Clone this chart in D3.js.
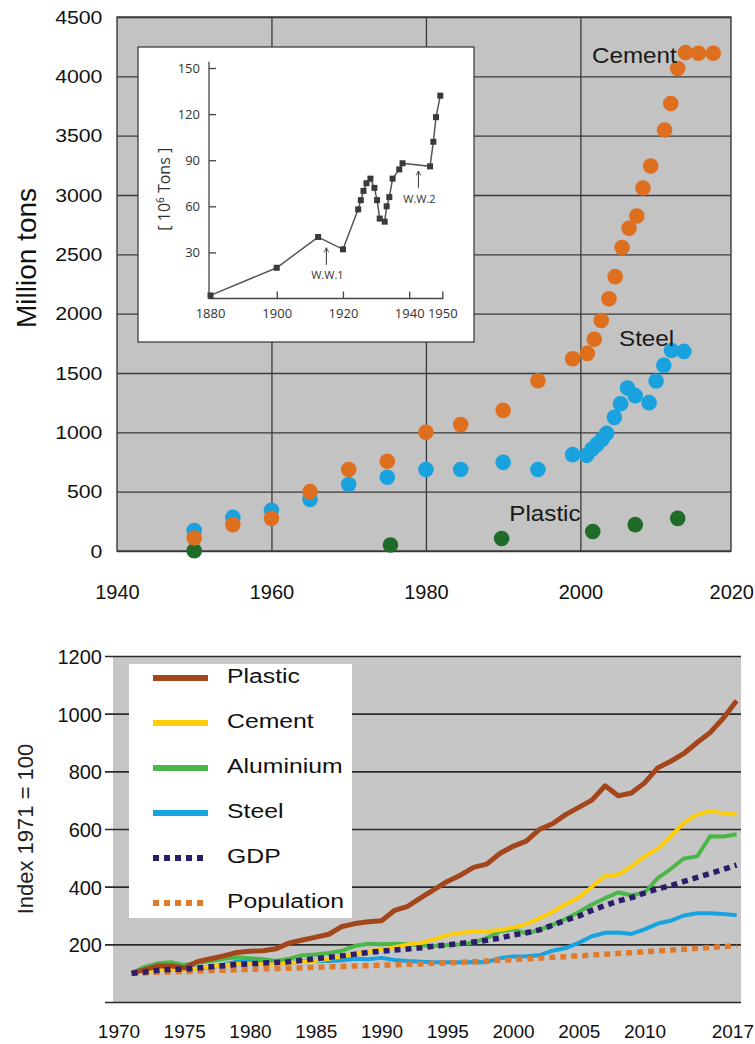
<!DOCTYPE html>
<html>
<head>
<meta charset="utf-8">
<script src="https://cdn.jsdelivr.net/npm/d3@7"></script>
<style>
  html, body { margin: 0; padding: 0; background: #fff; }
  svg { display: block; font-family: "Liberation Sans", Arial, Helvetica, sans-serif; }
</style>
</head>
<body>
<svg id="fig" width="755" height="1044"></svg>
<script>
// ---------- Upper panel: world production, million tons ----------
const cementYears = [1950, 1955, 1960, 1965, 1970, 1975, 1980, 1984.5, 1990, 1994.5, 1999, 2000.9, 2001.8, 2002.7, 2003.7, 2004.5, 2005.4, 2006.3, 2007.3, 2008.1, 2009.1, 2010.9, 2011.7, 2012.6, 2013.6, 2015.3, 2017.2];
const cementTons  = [110, 222, 275, 500, 687, 756, 1000, 1065, 1185, 1435, 1620, 1665, 1785, 1942, 2125, 2312, 2557, 2719, 2823, 3059, 3244, 3548, 3771, 4066, 4200, 4195, 4195];

const steelYears = [1950, 1955, 1960, 1965, 1970, 1975, 1980, 1984.5, 1990, 1994.5, 1999, 2000.8, 2001.5, 2002.1, 2002.8, 2003.4, 2004.4, 2005.2, 2006.1, 2007.1, 2008.9, 2009.8, 2010.8, 2011.8, 2013.4];
const steelTons  = [172, 283, 344, 434, 560, 622, 687, 687, 747, 687, 812, 806, 857, 896, 940, 991, 1126, 1241, 1374, 1309, 1250, 1432, 1565, 1690, 1682];

const plasticYears = [1950, 1975.4, 1989.8, 2001.6, 2007.1, 2012.6];
const plasticTons  = [2, 50, 105, 164, 222, 275];

const mainNames  = ["Cement", "Steel", "Plastic"];
const mainYTicks = [0, 500, 1000, 1500, 2000, 2500, 3000, 3500, 4000, 4500];
const mainXTicks = [1940, 1960, 1980, 2000, 2020];
const mainGridX  = [1960, 1980, 2000];
const mainYTitle = "Million tons";

// Inset: early production, 10^6 tons
const insetYears = [1880, 1900, 1912.5, 1920, 1924.6, 1925.4, 1926.2, 1927.1, 1928.3, 1929.5, 1930.3, 1931.1, 1932.6, 1933.2, 1934, 1935, 1937, 1938, 1946.3, 1947.3, 1948.1, 1949.4];
const insetTons  = [2, 20, 40, 32, 58, 64, 70, 75, 78, 72, 64, 52, 50, 60, 66, 78, 84, 88, 86, 102, 118, 132];
const insetXTicks = [1880, 1900, 1920, 1940, 1950];
const insetYTicks = [30, 60, 90, 120, 150];
const insetNotes  = [
  { text: "W.W.1", year: 1915, from: 22, to: 33, label: 13 },
  { text: "W.W.2", year: 1942.8, from: 72, to: 83, label: 62 }
];

// ---------- Lower panel: index 1971 = 100 ----------
const indexYears = [1971, 1972, 1973, 1974, 1975, 1976, 1977, 1978, 1979, 1980,
                    1981, 1982, 1983, 1984, 1985, 1986, 1987, 1988, 1989, 1990,
                    1991, 1992, 1993, 1994, 1995, 1996, 1997, 1998, 1999, 2000,
                    2001, 2002, 2003, 2004, 2005, 2006, 2007, 2008, 2009, 2010,
                    2011, 2012, 2013, 2014, 2015, 2016, 2017];
const plasticIndex = [100, 112, 125, 126, 118, 140, 150, 160, 172, 176,
                      178, 185, 205, 215, 225, 235, 262, 272, 278, 282,
                      318, 332, 362, 390, 418, 440, 467, 478, 515, 540,
                      558, 598, 618, 650, 675, 700, 750, 715, 725, 760,
                      812, 835, 862, 900, 935, 985, 1045];
const cementIndex = [100, 106, 113, 112, 110, 116, 122, 128, 132, 133,
                     131, 130, 135, 140, 143, 150, 158, 168, 176, 182,
                     190, 200, 205, 218, 232, 240, 244, 245, 250, 258,
                     270, 290, 312, 340, 362, 400, 438, 442, 470, 505,
                     532, 575, 622, 650, 662, 655, 650];
const aluminiumIndex = [100, 122, 134, 138, 128, 136, 142, 150, 155, 152,
                        148, 142, 150, 162, 165, 170, 178, 195, 202, 200,
                        202, 200, 196, 194, 198, 200, 206, 222, 245, 252,
                        238, 250, 268, 288, 312, 338, 360, 380, 370, 378,
                        430, 462, 498, 505, 575, 574, 582];
const steelIndex = [100, 110, 120, 122, 112, 118, 120, 130, 140, 142,
                    140, 132, 135, 142, 143, 142, 145, 150, 148, 153,
                    146, 142, 140, 138, 138, 138, 139, 138, 152, 158,
                    159, 162, 178, 187, 205, 228, 240, 241, 236, 252,
                    272, 282, 300, 308, 308, 305, 301];
const gdpIndex = [100, 104, 110, 113, 114, 118, 122, 126, 130, 132,
                  135, 137, 140, 145, 150, 155, 160, 166, 172, 176,
                  180, 184, 188, 194, 198, 203, 208, 214, 222, 232,
                  240, 250, 266, 284, 298, 318, 335, 350, 362, 378,
                  392, 404, 418, 432, 446, 460, 475];
const populationIndex = [100, 101, 103, 104, 106, 107, 109, 110, 112, 113,
                         115, 116, 117, 119, 120, 122, 123, 125, 126, 128,
                         129, 131, 132, 134, 136, 138, 140, 142, 145, 147,
                         150, 152, 155, 157, 160, 163, 166, 168, 171, 174,
                         177, 180, 183, 186, 189, 192, 196];
const indexNames  = ["Plastic", "Cement", "Aluminium", "Steel", "GDP", "Population"];
const indexYTicks = [0, 200, 400, 600, 800, 1000, 1200];
const indexXTicks = [1970, 1975, 1980, 1985, 1990, 1995, 2000, 2005, 2010, 2017];
const indexYTitle = "Index 1971 = 100";

// ---------- drawing ----------
const FONT = '"Liberation Sans", Arial, Helvetica, sans-serif';
const INSET_FONT = '"Open Sans", "Liberation Sans", Arial, sans-serif';
const W = 755;
const svg = d3.select("#fig");
svg.append("rect").attr("width", W).attr("height", 1044).attr("fill", "#fff");

// open arrowhead drawn along +x, so orient="auto" turns it with the line
svg.append("defs").append("marker")
  .attr("id", "arrowUp").attr("viewBox", "0 0 8 8")
  .attr("refX", 7).attr("refY", 4)
  .attr("markerUnits", "userSpaceOnUse")
  .attr("markerWidth", 6).attr("markerHeight", 6)
  .attr("orient", "auto")
  .append("path").attr("d", "M1,1L7,4L1,7").attr("fill", "none").attr("stroke", "#444").attr("stroke-width", 1.2);

// keeps the right-most tick label inside the page
function keepInside(sel) {
  sel.each(function () {
    const b = this.getBBox();
    const t = d3.select(this.parentNode).attr("transform");
    const tx = +/translate\(([-\d.]+)/.exec(t)[1];
    const over = tx + b.x + b.width - (W - 1);
    if (over > 0) d3.select(this).attr("x", -over);
  });
}

// ===== upper panel =====
const P1 = { left: 117, right: 731, top: 17, bottom: 551 };
const x1 = d3.scaleLinear().domain([1940, 2019.5]).range([P1.left, P1.right]);
const y1 = d3.scaleLinear().domain([0, 4500]).range([P1.bottom, P1.top]);
const up = svg.append("g");

up.append("rect")
  .attr("x", P1.left).attr("y", P1.top)
  .attr("width", P1.right - P1.left).attr("height", P1.bottom - P1.top)
  .attr("fill", "#c3c3c3");

// vertical grid
const gx1grid = up.append("g")
  .attr("transform", `translate(0,${P1.bottom})`)
  .call(d3.axisBottom(x1).tickValues(mainGridX).tickSize(-(P1.bottom - P1.top)).tickFormat(""));
gx1grid.select(".domain").remove();
gx1grid.selectAll("line").attr("stroke", "#3a3a3a").attr("stroke-width", 1.3);

// horizontal grid + value labels
const gy1 = up.append("g")
  .attr("transform", `translate(${P1.left},0)`)
  .call(d3.axisLeft(y1).tickValues(mainYTicks).tickSize(-(P1.right - P1.left)).tickPadding(13).tickFormat(d3.format("d")));
gy1.attr("font-family", null).attr("font-size", null);
gy1.select(".domain").remove();
gy1.selectAll("line").attr("stroke", "#3a3a3a").attr("stroke-width", 1.3);
gy1.selectAll("text")
  .attr("font-family", FONT).attr("font-size", 19).attr("fill", "#111")
  .attr("transform", "scale(1.12,1)");

// year labels
const gx1 = up.append("g")
  .attr("transform", `translate(0,${P1.bottom})`)
  .call(d3.axisBottom(x1).tickValues(mainXTicks).tickSize(0).tickFormat(d3.format("d")));
gx1.attr("font-family", null).attr("font-size", null);
gx1.select(".domain").remove();
gx1.selectAll("text")
  .attr("font-family", FONT).attr("font-size", 20).attr("fill", "#111")
  .attr("y", 48).attr("dy", 0)
  .call(keepInside);

// frame
up.append("rect")
  .attr("x", P1.left).attr("y", P1.top)
  .attr("width", P1.right - P1.left).attr("height", P1.bottom - P1.top)
  .attr("fill", "none").attr("stroke", "#3a3a3a").attr("stroke-width", 1.4);

// axis title
up.append("text")
  .attr("transform", "translate(36,258) rotate(-90)")
  .attr("text-anchor", "middle")
  .attr("font-family", FONT).attr("font-size", 28).attr("fill", "#111")
  .text(mainYTitle);

// ----- inset -----
const IB = { x: 138, y: 47, w: 336, h: 295 };
const inset = up.append("g");
inset.append("rect")
  .attr("x", IB.x).attr("y", IB.y).attr("width", IB.w).attr("height", IB.h)
  .attr("fill", "#fff").attr("stroke", "#333").attr("stroke-width", 1.2);

const xi = d3.scaleLinear().domain([1880, 1950]).range([210.5, 442.3]);
const yi = d3.scaleLinear().domain([0, 150]).range([298.5, 68]);
const axisX0 = 209;

const giy = inset.append("g")
  .attr("transform", `translate(${axisX0},0)`)
  .call(d3.axisLeft(yi).tickValues(insetYTicks).tickSizeInner(-7).tickSizeOuter(0).tickPadding(9));
giy.attr("font-family", null).attr("font-size", null);
giy.select(".domain").remove();
giy.selectAll("line").attr("stroke", "#444").attr("stroke-width", 1.3);
giy.selectAll("text").attr("font-family", INSET_FONT).attr("font-size", 13).attr("fill", "#333");

const gix = inset.append("g")
  .attr("transform", `translate(0,${yi(0)})`)
  .call(d3.axisBottom(xi).tickValues(insetXTicks.slice(1)).tickSizeInner(-7).tickSizeOuter(0).tickFormat(d3.format("d")));
gix.attr("font-family", null).attr("font-size", null);
gix.select(".domain").remove();
gix.selectAll("line").attr("stroke", "#444").attr("stroke-width", 1.3);
gix.selectAll("text").attr("font-family", INSET_FONT).attr("font-size", 13).attr("fill", "#333")
  .attr("y", 19).attr("dy", 0);
// first year label sits at the corner
gix.append("text")
  .attr("x", xi(insetXTicks[0])).attr("y", 19)
  .attr("text-anchor", "middle")
  .attr("font-family", INSET_FONT).attr("font-size", 13).attr("fill", "#333")
  .text(insetXTicks[0]);

// axis lines
inset.append("path")
  .attr("d", `M${axisX0},${yi(154)}V${yi(0)}H${xi(1950) + 1}`)
  .attr("fill", "none").attr("stroke", "#444").attr("stroke-width", 1.3);

inset.append("text")
  .attr("transform", `translate(170,${yi(75) + 6}) rotate(-90)`)
  .attr("text-anchor", "middle")
  .attr("font-family", INSET_FONT).attr("font-size", 16).attr("fill", "#333")
  .call(t => {
    t.append("tspan").text("[ 10");
    t.append("tspan").attr("font-size", 10).attr("dy", -6).text("6");
    t.append("tspan").attr("dy", 6).text(" Tons ]");
  });

const insetData = insetYears.map((yr, i) => ({ year: yr, v: insetTons[i] }));
inset.append("path")
  .datum(insetData)
  .attr("d", d3.line().x(d => xi(d.year)).y(d => yi(d.v)))
  .attr("fill", "none").attr("stroke", "#555").attr("stroke-width", 1.5);
inset.selectAll("rect.mk").data(insetData).join("rect")
  .attr("class", "mk")
  .attr("x", d => xi(d.year) - 3).attr("y", d => yi(d.v) - 3)
  .attr("width", 6).attr("height", 6)
  .attr("fill", "#3a3a3a");

insetNotes.forEach(n => {
  inset.append("line")
    .attr("x1", xi(n.year)).attr("x2", xi(n.year))
    .attr("y1", yi(n.from)).attr("y2", yi(n.to))
    .attr("stroke", "#444").attr("stroke-width", 1.1)
    .attr("marker-end", "url(#arrowUp)");
  inset.append("text")
    .attr("x", xi(n.year) + 1).attr("y", yi(n.label))
    .attr("text-anchor", "middle")
    .attr("font-family", INSET_FONT).attr("font-size", 11).attr("fill", "#333")
    .text(n.text);
});

// ----- dots -----
const mainColors = { Cement: "#de6f1f", Steel: "#1aa2de", Plastic: "#1e6b2a" };
const mainSeries = [
  { name: mainNames[2], years: plasticYears, vals: plasticTons },
  { name: mainNames[1], years: steelYears, vals: steelTons },
  { name: mainNames[0], years: cementYears, vals: cementTons }
];
mainSeries.forEach(s => {
  up.append("g").selectAll("circle")
    .data(s.years.map((yr, i) => ({ year: yr, v: s.vals[i] })))
    .join("circle")
    .attr("cx", d => x1(d.year)).attr("cy", d => y1(d.v))
    .attr("r", 7.8)
    .attr("fill", mainColors[s.name]);
});

// series labels
const labelPos = {
  Cement: [x1(2001.5), y1(4110)],
  Steel: [x1(2005), y1(1730)],
  Plastic: [x1(1990.8), y1(250)]
};
mainNames.forEach(n => {
  up.append("text")
    .attr("transform", `translate(${labelPos[n][0]},${labelPos[n][1]}) scale(1.1,1)`)
    .attr("font-family", FONT).attr("font-size", 22).attr("fill", "#1a1a1a")
    .text(n);
});

// ===== lower panel =====
const P2 = { left: 113, right: 741 };
const x2 = d3.scaleLinear().domain([1970, 2017]).range([118.5, 736.6]);
const y2 = d3.scaleLinear().domain([0, 1200]).range([1002, 656]);
const lo = svg.append("g");

lo.append("rect")
  .attr("x", P2.left).attr("y", y2(1200))
  .attr("width", P2.right - P2.left).attr("height", y2(0) - y2(1200))
  .attr("fill", "#c6c6c6");

const gy2 = lo.append("g")
  .attr("transform", `translate(${P2.left},0)`)
  .call(d3.axisLeft(y2).tickValues(indexYTicks).tickSizeInner(-(P2.right - P2.left)).tickSizeOuter(0).tickPadding(11)
        .tickFormat(d => d === 0 ? "" : d));
gy2.attr("font-family", null).attr("font-size", null);
gy2.select(".domain").remove();
gy2.selectAll("line").attr("x1", -8).attr("stroke", "#2a2a2a").attr("stroke-width", 1.7);
gy2.selectAll("text")
  .attr("font-family", FONT).attr("font-size", 20).attr("fill", "#111")
  .attr("dy", "0.38em");

const gx2 = lo.append("g")
  .attr("transform", `translate(0,${y2(0)})`)
  .call(d3.axisBottom(x2).tickValues(indexXTicks).tickSize(0).tickFormat(d3.format("d")));
gx2.attr("font-family", null).attr("font-size", null);
gx2.select(".domain").remove();
gx2.selectAll("text")
  .attr("font-family", FONT).attr("font-size", 19).attr("fill", "#111")
  .attr("y", 36).attr("dy", 0)
  .call(keepInside);

lo.append("text")
  .attr("transform", "translate(33,829) rotate(-90)")
  .attr("text-anchor", "middle")
  .attr("font-family", FONT).attr("font-size", 22).attr("fill", "#222")
  .text(indexYTitle);

const indexStyle = {
  Plastic:    { color: "#a4461b", width: 5, dash: null },
  Cement:     { color: "#ffcc0a", width: 4, dash: null },
  Aluminium:  { color: "#4bb749", width: 4, dash: null },
  Steel:      { color: "#19a2e0", width: 4, dash: null },
  GDP:        { color: "#2a1d6a", width: 5.5, dash: "6,5" },
  Population: { color: "#e07a2c", width: 5.5, dash: "6,5" }
};
const indexValues = {
  Plastic: plasticIndex, Cement: cementIndex, Aluminium: aluminiumIndex,
  Steel: steelIndex, GDP: gdpIndex, Population: populationIndex
};
const drawOrder = ["Steel", "Aluminium", "Cement", "Plastic", "Population", "GDP"];
const line2 = d3.line().x(d => x2(d.year)).y(d => y2(d.v));
drawOrder.forEach(n => {
  const st = indexStyle[n];
  lo.append("path")
    .datum(indexYears.map((yr, i) => ({ year: yr, v: indexValues[n][i] })))
    .attr("d", line2)
    .attr("fill", "none")
    .attr("stroke", st.color).attr("stroke-width", st.width)
    .attr("stroke-linejoin", "round")
    .attr("stroke-dasharray", st.dash);
});

// legend
const LG = { x: 129, y: 664, w: 223, h: 254 };
lo.append("rect").attr("x", LG.x).attr("y", LG.y).attr("width", LG.w).attr("height", LG.h).attr("fill", "#fff");
indexNames.forEach((n, i) => {
  const base = 683 + i * 45;
  const st = indexStyle[n];
  lo.append("line")
    .attr("x1", 153).attr("x2", 208)
    .attr("y1", base - 5).attr("y2", base - 5)
    .attr("stroke", st.color).attr("stroke-width", 6)
    .attr("stroke-dasharray", st.dash);
  lo.append("text")
    .attr("transform", `translate(227,${base}) scale(1.18,1)`)
    .attr("font-family", FONT).attr("font-size", 21).attr("fill", "#111")
    .text(n);
});
</script>
</body>
</html>
